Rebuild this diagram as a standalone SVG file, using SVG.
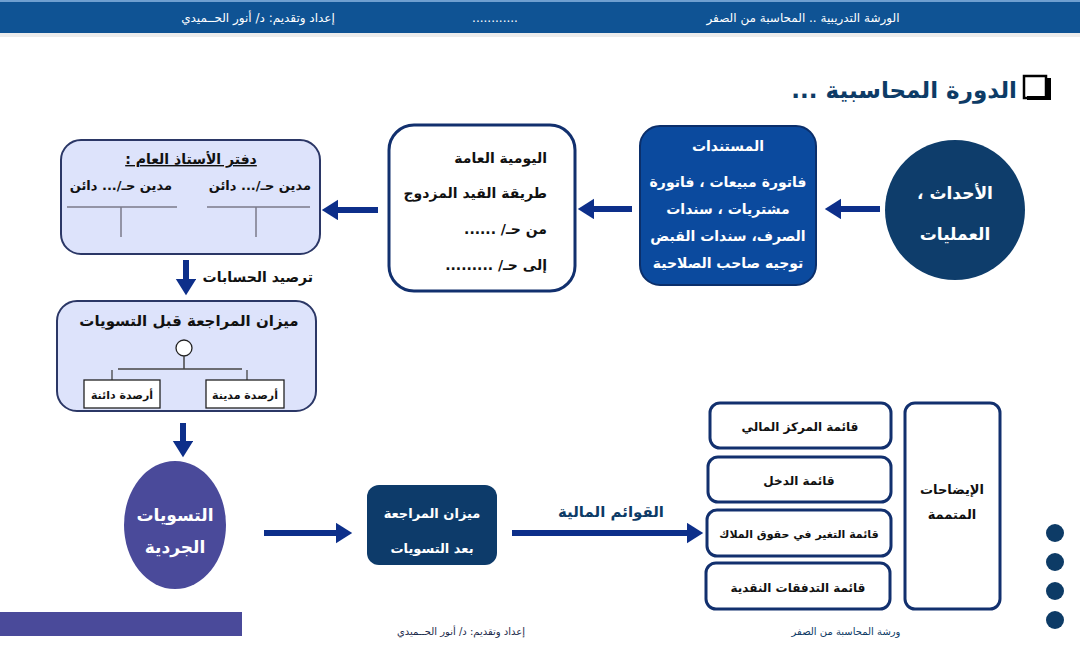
<svg xmlns="http://www.w3.org/2000/svg" width="1080" height="647" viewBox="0 0 1080 647">
<defs>
<marker id="ah" markerWidth="3" markerHeight="4" refX="0" refY="1.7" orient="auto" markerUnits="strokeWidth">
<path d="M0,0 L2.7,1.7 L0,3.4 Z" fill="#0d2f8a"/>
</marker>
<style>
text{font-family:"DejaVu Sans","Noto Sans",sans-serif;font-weight:bold;direction:rtl;}
.nb{font-weight:normal;}
.c{text-anchor:middle;}
.w{fill:#ffffff;}
.k{fill:#111111;}
.n{fill:#0d3b66;}
.arr{stroke:#0d2f8a;stroke-width:6;fill:none;marker-end:url(#ah);}
.lav{fill:#dde3fb;stroke:#2b3766;stroke-width:2;}
.wb{fill:#ffffff;stroke:#12306e;stroke-width:3;}
.tl{stroke:#7a7a8a;stroke-width:1.5;}
</style>
</defs>
<rect width="1080" height="647" fill="#ffffff"/>
<g id="header">
<rect x="0" y="0" width="1080" height="33" fill="#0f5394"/>
<rect x="0" y="0" width="1080" height="2" fill="#6f9fd0"/>
<rect x="0" y="33" width="1080" height="4" fill="#ececec"/>
<text x="803" y="22" class="c w nb" font-size="12">الورشة التدريبية .. المحاسبة من الصفر</text>
<text x="495" y="22" class="c w nb" font-size="12">............</text>
<text x="258" y="22" class="c w nb" font-size="12">إعداد وتقديم:  د/ أنور الحــميدي</text>
</g>
<g id="title">
<rect x="1024" y="76" width="22" height="22" fill="#ffffff" stroke="#000" stroke-width="2.5"/>
<path d="M1027,98 L1049,98 L1049,78" fill="none" stroke="#000" stroke-width="4"/>
<text x="1017" y="98" font-size="23" class="n" text-anchor="start">الدورة المحاسبية ...</text>
</g>
<g id="connectors">
<line x1="880" y1="209" x2="841" y2="209" class="arr"/>
<line x1="632" y1="209" x2="594" y2="209" class="arr"/>
<line x1="378" y1="210" x2="338" y2="210" class="arr"/>
<line x1="186" y1="260" x2="186" y2="279" class="arr"/>
<line x1="183" y1="423" x2="183" y2="441" class="arr"/>
<line x1="264" y1="533" x2="336" y2="533" class="arr"/>
<line x1="512" y1="533" x2="687" y2="533" class="arr"/>
</g>
<g id="events">
<circle cx="955" cy="210" r="70" fill="#0e3d6b"/>
<text x="955" y="199" class="c w" font-size="17">الأحداث ،</text>
<text x="955" y="240" class="c w" font-size="17">العمليات</text>
</g>
<g id="documents">
<rect x="640" y="126" width="176" height="159" rx="20" fill="#0b4a9e" stroke="#0b2f6b" stroke-width="2"/>
<text x="728" y="151" class="c w" font-size="14">المستندات</text>
<text x="728" y="187" class="c w" font-size="14">فاتورة مبيعات ، فاتورة</text>
<text x="728" y="214" class="c w" font-size="14">مشتريات ، سندات</text>
<text x="728" y="241" class="c w" font-size="14">الصرف، سندات القبض</text>
<text x="728" y="268" class="c w" font-size="14">توجيه صاحب الصلاحية</text>
</g>
<g id="journal">
<rect x="389" y="125" width="186" height="166" rx="25" class="wb"/>
<text x="547" y="163" class="k" font-size="14" text-anchor="start">اليومية العامة</text>
<text x="547" y="198" class="k" font-size="14" text-anchor="start">طريقة القيد المزدوج</text>
<text x="547" y="234" class="k" font-size="14" text-anchor="start">من حـ/ ......</text>
<text x="547" y="270" class="k" font-size="14" text-anchor="start">إلى حـ/ .........</text>
</g>
<g id="ledger">
<rect x="61" y="140" width="259" height="114" rx="20" class="lav"/>
<text x="191" y="164" class="c k" font-size="14" text-decoration="underline">دفتر الأستاذ العام :</text>
<text x="311" y="190" class="k" font-size="13" text-anchor="start">مدين حـ/...   دائن</text>
<text x="172" y="190" class="k" font-size="13" text-anchor="start">مدين حـ/... دائن</text>
<line x1="207" y1="207" x2="310" y2="207" class="tl"/>
<line x1="256" y1="207" x2="256" y2="237" class="tl"/>
<line x1="67" y1="207" x2="177" y2="207" class="tl"/>
<line x1="121" y1="207" x2="121" y2="237" class="tl"/>
</g>
<g id="posting-label">
<text x="313" y="282" class="k" font-size="14" text-anchor="start">ترصيد الحسابات</text>
</g>
<g id="tb-before">
<rect x="57" y="301" width="259" height="110" rx="20" class="lav"/>
<text x="189" y="326" class="c k" font-size="15">ميزان المراجعة قبل التسويات</text>
<circle cx="184" cy="348" r="8" fill="#ffffff" stroke="#222" stroke-width="1.3"/>
<line x1="184" y1="356" x2="184" y2="369" stroke="#444" stroke-width="1.5"/>
<line x1="118" y1="369" x2="242" y2="369" stroke="#444" stroke-width="1.5"/>
<line x1="112" y1="370" x2="112" y2="380" stroke="#444" stroke-width="1.3"/>
<line x1="247" y1="370" x2="247" y2="380" stroke="#444" stroke-width="1.3"/>
<rect x="84" y="380" width="76" height="28" fill="#ffffff" stroke="#222" stroke-width="1.3"/>
<text x="122" y="399" class="c k" font-size="11">أرصدة دائنة</text>
<rect x="206" y="380" width="78" height="28" fill="#ffffff" stroke="#222" stroke-width="1.3"/>
<text x="245" y="399" class="c k" font-size="11">أرصدة مدينة</text>
</g>
<g id="adjustments">
<ellipse cx="175" cy="525" rx="51" ry="64" fill="#4a4a9a"/>
<text x="175" y="521" class="c w" font-size="17">التسويات</text>
<text x="175" y="553" class="c w" font-size="17">الجردية</text>
</g>
<g id="tb-after">
<rect x="367" y="485" width="130" height="80" rx="12" fill="#0d3b6a"/>
<text x="432" y="518" class="c w" font-size="13">ميزان المراجعة</text>
<text x="432" y="553" class="c w" font-size="13">بعد التسويات</text>
</g>
<g id="fs-label">
<text x="611" y="517" class="c n" font-size="15">القوائم المالية</text>
</g>
<g id="fs-position">
<rect x="710" y="403" width="181" height="45" rx="10" class="wb"/>
<text x="800" y="431" class="c k" font-size="12">قائمة المركز المالي</text>
</g>
<g id="fs-income">
<rect x="708" y="457" width="183" height="45" rx="10" class="wb"/>
<text x="799" y="485" class="c k" font-size="12">قائمة الدخل</text>
</g>
<g id="fs-equity">
<rect x="707" y="510" width="184" height="46" rx="10" class="wb"/>
<text x="799" y="538" class="c k" font-size="11">قائمة التغير في حقوق الملاك</text>
</g>
<g id="fs-cash">
<rect x="706" y="563" width="184" height="46" rx="10" class="wb"/>
<text x="798" y="592" class="c k" font-size="12">قائمة التدفقات النقدية</text>
</g>
<g id="notes">
<rect x="905" y="403" width="95" height="206" rx="10" class="wb"/>
<text x="952" y="494" class="c k" font-size="13">الإيضاحات</text>
<text x="952" y="519" class="c k" font-size="13">المتممة</text>
</g>
<g id="dots" fill="#0d3b66">
<circle cx="1055" cy="533" r="9"/>
<circle cx="1055" cy="562" r="9"/>
<circle cx="1055" cy="591" r="9"/>
<circle cx="1055" cy="620" r="9"/>
</g>
<g id="footer">
<rect x="0" y="612" width="242" height="24" fill="#4a4a9a"/>
<text x="461" y="635" class="c nb" font-size="10" fill="#1a2a4a">إعداد وتقديم: د/ أنور الحــميدي</text>
<text x="846" y="635" class="c nb" font-size="10" fill="#0d3b66">ورشة المحاسبة من الصفر</text>
</g>
</svg>
